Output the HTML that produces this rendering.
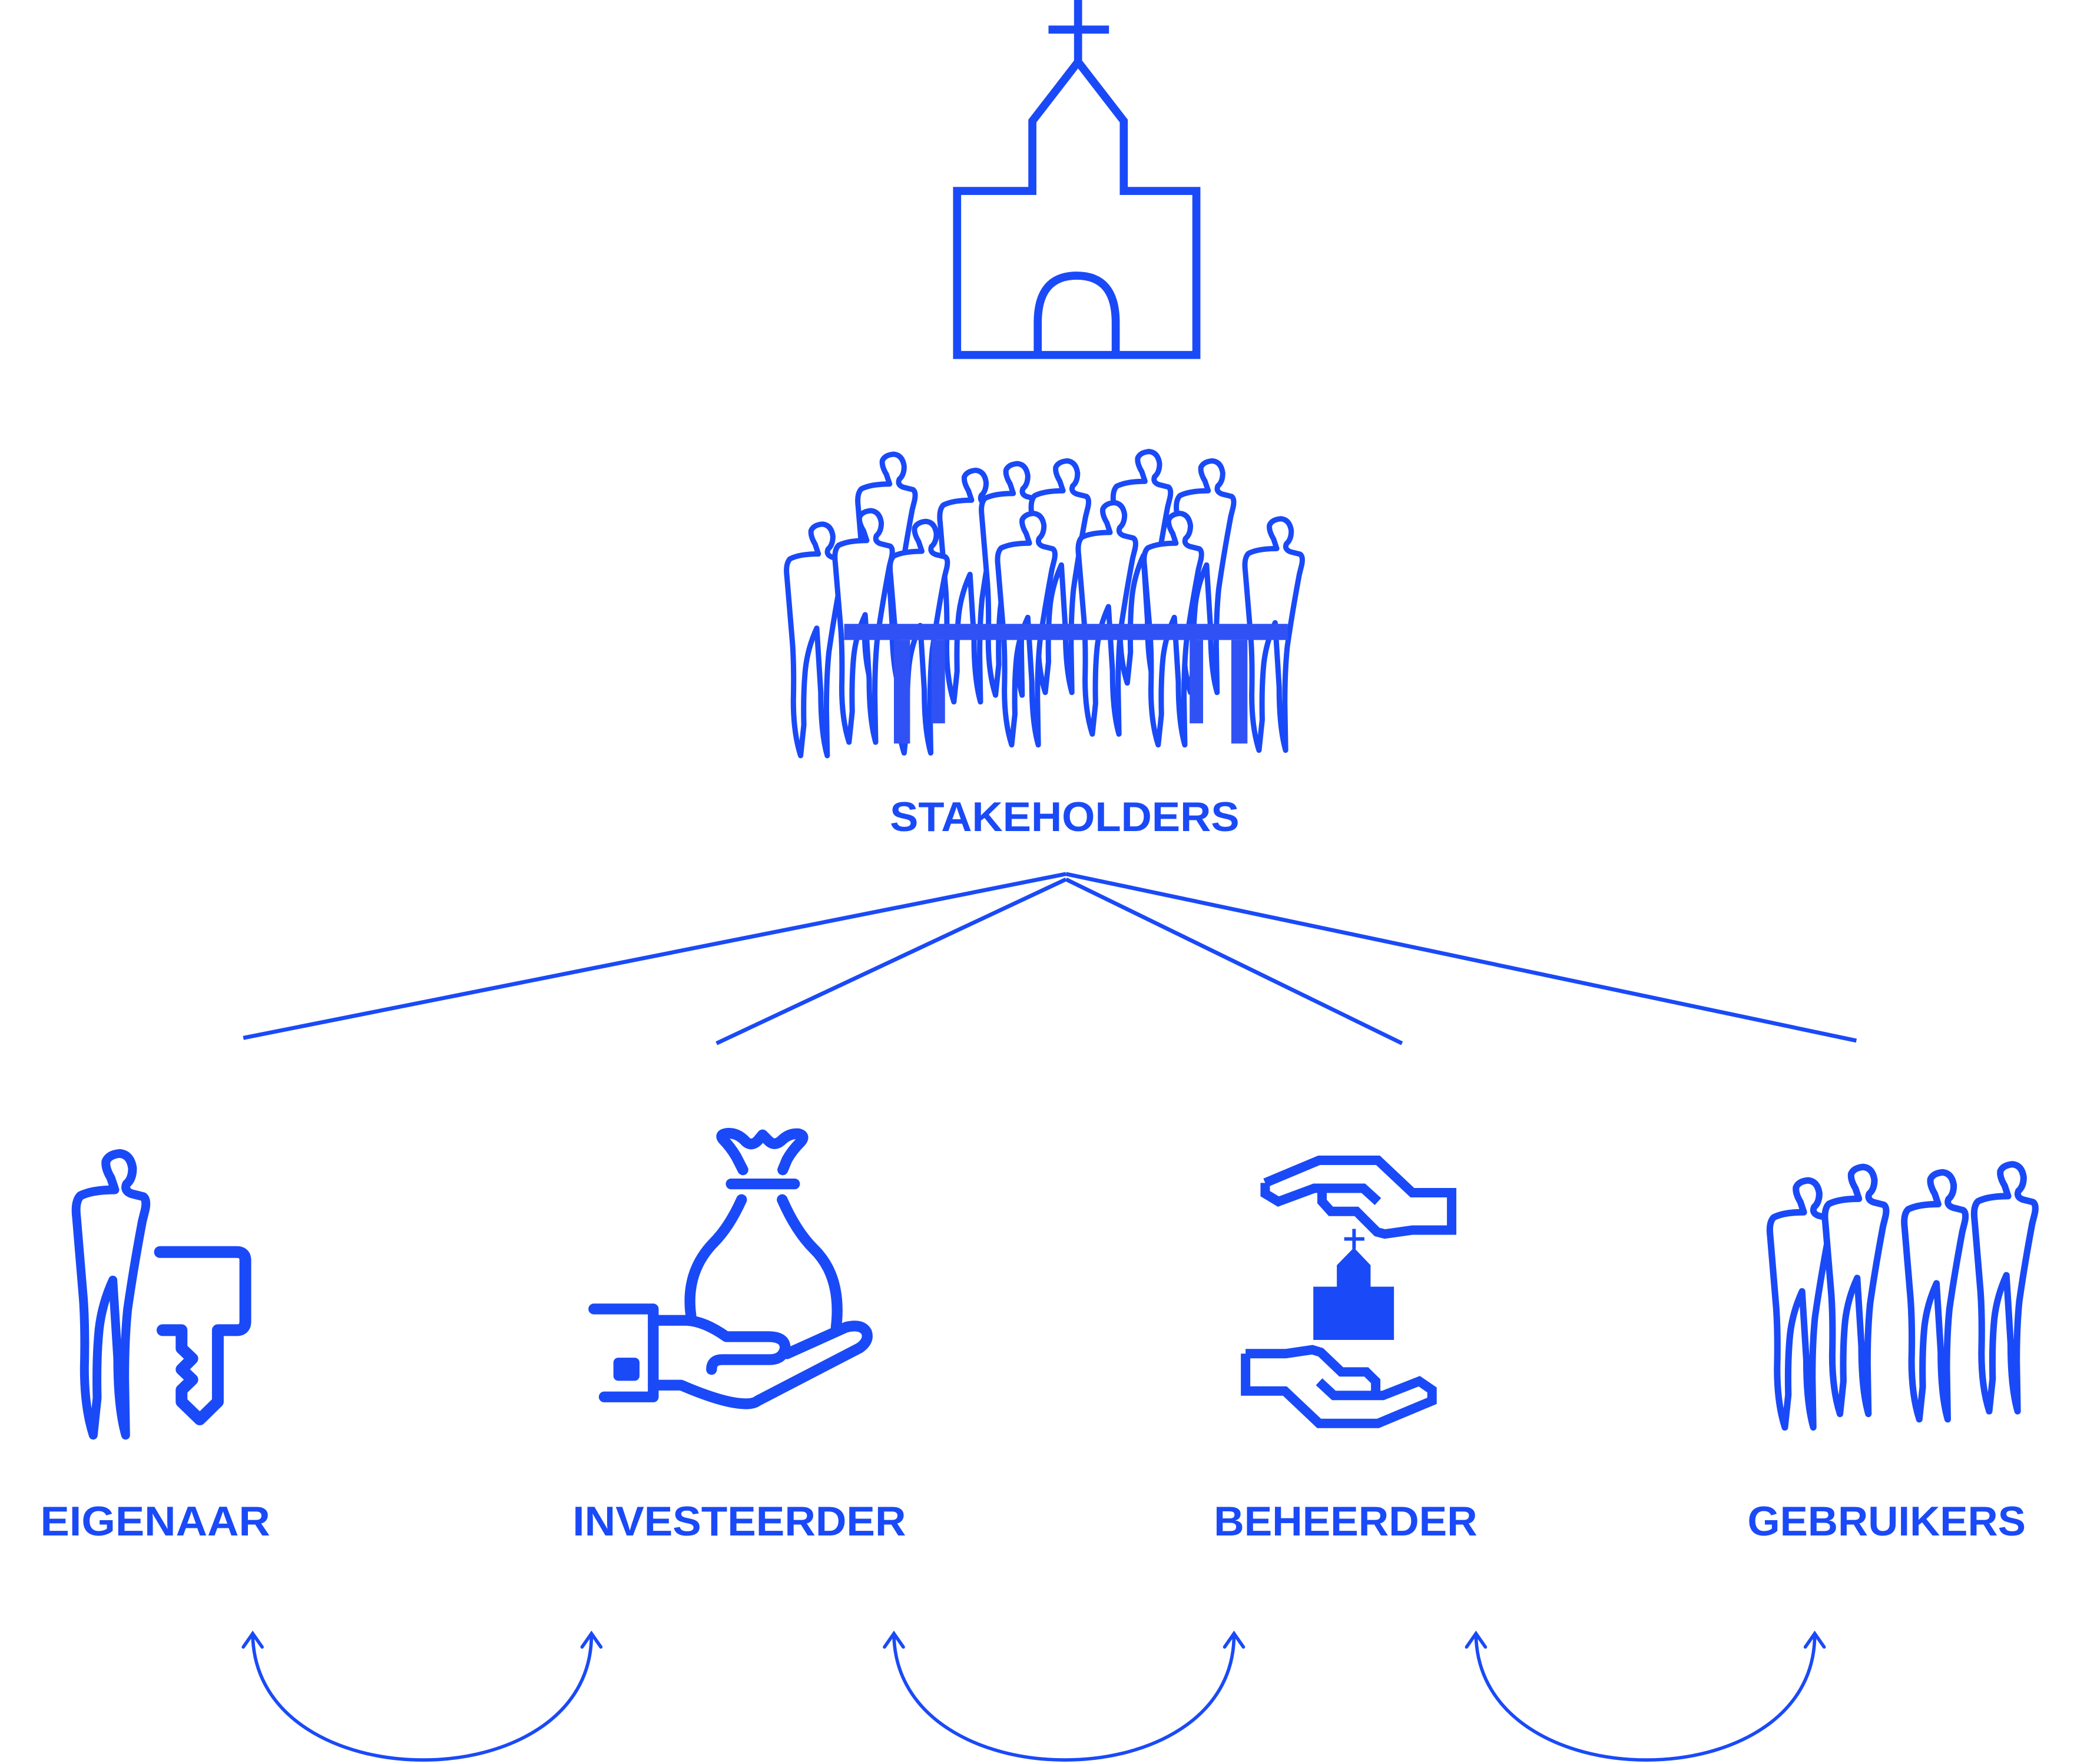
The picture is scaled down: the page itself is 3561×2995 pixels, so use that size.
<!DOCTYPE html>
<html><head><meta charset="utf-8"><style>html,body{margin:0;padding:0;background:#fff}svg{display:block}</style></head>
<body>
<svg width="3561" height="2995" viewBox="0 0 1560 1312" xmlns="http://www.w3.org/2000/svg" font-family="Liberation Sans, sans-serif">
<defs>
<path id="p" d="M285,240 L265,180 Q235,130 240,95 Q255,60 310,55 Q365,60 375,130 Q375,185 345,210 Q330,245 370,260 L430,275 Q450,290 440,340 L425,400 Q380,640 350,850 Q335,1000 335,1200 L340,1490 Q300,1350 300,1100 L275,700 Q220,820 205,950 Q190,1100 195,1300 L175,1490 Q130,1350 130,1150 Q135,950 125,800 L90,380 Q80,300 110,270 Q170,240 285,240 Z"/>
</defs>
<g fill="none" stroke="#1a4af7" stroke-linecap="round" stroke-linejoin="round">
<!-- church -->
<path d="M802,0 V45 M780,22 H825" stroke-width="6" stroke-linecap="butt"/>
<path d="M712,264 L712,142 L768,142 L768,90 L802,46 L836,90 L836,142 L890,142 L890,264 Z" stroke-width="6" stroke-linejoin="miter"/>
<path d="M772,262 L772,240 Q772,205 801,205 Q830,205 830,240 L830,262" stroke-width="6"/>
</g>
<!-- crowd -->
<g fill="#fff" stroke="#1a4af7" stroke-linejoin="round">
<use href="#p" stroke-width="33" transform="translate(627.6,331.2) scale(0.12)"/>
<use href="#p" stroke-width="33" transform="translate(688.6,343.2) scale(0.12)"/>
<use href="#p" stroke-width="33" transform="translate(719.6,338.2) scale(0.12)"/>
<use href="#p" stroke-width="33" transform="translate(756.6,336.2) scale(0.12)"/>
<use href="#p" stroke-width="33" transform="translate(817.6,329.2) scale(0.12)"/>
<use href="#p" stroke-width="33" transform="translate(864.6,336.2) scale(0.12)"/>
<use href="#p" stroke-width="33" transform="translate(574.6,383.2) scale(0.12)"/>
<use href="#p" stroke-width="33" transform="translate(610.6,373.2) scale(0.12)"/>
<use href="#p" stroke-width="33" transform="translate(651.6,381.2) scale(0.12)"/>
<use href="#p" stroke-width="33" transform="translate(731.6,375.2) scale(0.12)"/>
<use href="#p" stroke-width="33" transform="translate(791.6,367.2) scale(0.12)"/>
<use href="#p" stroke-width="33" transform="translate(840.6,375.2) scale(0.12)"/>
<use href="#p" stroke-width="33" transform="translate(915.6,379.2) scale(0.12)"/>
</g>
<g fill="#3052f5">
<rect x="628" y="464" width="330" height="12"/>
<rect x="665" y="476" width="12" height="77"/>
<rect x="693" y="476" width="10" height="62"/>
<rect x="885" y="476" width="10" height="62"/>
<rect x="916" y="476" width="12" height="77"/>
</g>
<g fill="#1a4af7" font-weight="bold" font-size="31">
<text x="662" y="618" textLength="260" lengthAdjust="spacingAndGlyphs">STAKEHOLDERS</text>
<text x="30" y="1142" textLength="171" lengthAdjust="spacingAndGlyphs">EIGENAAR</text>
<text x="426" y="1142" textLength="248" lengthAdjust="spacingAndGlyphs">INVESTEERDER</text>
<text x="903" y="1142" textLength="196" lengthAdjust="spacingAndGlyphs">BEHEERDER</text>
<text x="1300" y="1142" textLength="207" lengthAdjust="spacingAndGlyphs">GEBRUIKERS</text>
</g>
<g fill="none" stroke="#1a4af7" stroke-width="3">
<path d="M793,650 L181,772 M793,654 L533,776 M793,654 L1043,776 M793,650 L1381,774"/>
</g>
<g fill="none" stroke="#1a4af7" stroke-width="2.5" stroke-linecap="round">
<path d="M188,1216 C190,1340 440,1340 440,1216"/>
<path d="M181,1225 L188,1215 L195,1225 M433,1225 L440,1215 L447,1225"/>
<path d="M665,1216 C667,1340 918,1340 918,1216"/>
<path d="M658,1225 L665,1215 L672,1225 M911,1225 L918,1215 L925,1225"/>
<path d="M1098,1216 C1100,1340 1350,1340 1350,1216"/>
<path d="M1091,1225 L1098,1215 L1105,1225 M1343,1225 L1350,1215 L1357,1225"/>
</g>
<!-- eigenaar -->
<g transform="translate(43.8,849.9) scale(0.146)" stroke="#1a4af7" fill="none" stroke-linejoin="round" stroke-linecap="round">
<use href="#p" stroke-width="45"/>
<path d="M515,557 H905 Q950,557 950,600 V910 Q950,955 905,955 H810 V1320 L718,1410 L625,1320 V1260 L680,1207 L625,1155 L680,1100 L625,1048 V955 H528" stroke-width="60"/>
</g>
<!-- investeerder -->
<g transform="translate(433.7,832.4) scale(0.146)" stroke="#1a4af7" fill="none" stroke-linejoin="round" stroke-linecap="round" stroke-width="55">
<path d="M815,258 L780,190 Q750,140 715,105 Q690,75 740,72 Q790,70 830,115 Q860,140 890,110 L915,80 L945,110 Q975,140 1010,110 Q1050,70 1100,75 Q1135,85 1110,115 Q1065,160 1040,205 L1018,258"/>
<path d="M755,330 H1078"/>
<path d="M808,410 Q745,550 665,630 Q520,780 550,1000"/>
<path d="M1015,410 Q1085,570 1175,660 Q1320,800 1290,1060"/>
<path d="M55,967 H358 V1415 H108"/>
<path d="M358,1025 H530 Q620,1030 730,1108 H950 Q1030,1110 1030,1165 Q1020,1225 950,1225 H710 Q655,1225 655,1275"/>
<path d="M358,1355 H500 Q720,1450 830,1450 Q870,1450 890,1435 L1410,1165 Q1460,1130 1445,1085 Q1420,1040 1340,1060 L1040,1195"/>
<rect x="155" y="1215" width="133" height="118" rx="25" fill="#1a4af7" stroke="none"/>
</g>
<!-- beheerder -->
<g stroke="#1a4af7" fill="none" stroke-width="7" stroke-linejoin="miter">
<path d="M941.2,879.8 L981.3,863 H1025.1 L1050.7,887.1 H1079.9 V914.9 H1050.7 L1030.2,917.8 L1024.4,916.3 L1009.1,901 H990.1 L983.5,893.7 V883.8"/>
<path d="M941.2,879.8 V887.8 L951,893.7 L977.7,883.8 H1014.2 L1025.1,893.7"/>
<path d="M926.6,1006.8 V1034.6 H955.8 L981.3,1058.7 H1025.1 L1065.3,1041.9 V1033.8 L1055.8,1027.3 L1028.8,1037.9 H992.3 L981.3,1027.7"/>
<path d="M926.6,1006.8 H956.5 L976.2,1003.9 L982.5,1005.8 L997.8,1020.4 H1016.4 L1023.4,1027.3 V1037.9"/>
</g>
<g fill="#1a4af7">
<rect x="977" y="957" width="60" height="39.6"/>
<path d="M994.5,957.5 V941 L1007.2,928 L1019.6,941 V957.5 Z"/>
<rect x="1006" y="914" width="2.6" height="15"/>
<rect x="1000" y="920.2" width="15" height="2.6"/>
</g>
<!-- gebruikers -->
<g fill="#fff" stroke="#1a4af7" stroke-linejoin="round">
<use href="#p" stroke-width="38" transform="translate(1305.4,870.9) scale(0.128)"/>
<use href="#p" stroke-width="38" transform="translate(1346.4,860.9) scale(0.128)"/>
<use href="#p" stroke-width="38" transform="translate(1405.4,864.9) scale(0.128)"/>
<use href="#p" stroke-width="38" transform="translate(1457.4,858.9) scale(0.128)"/>
</g>
</svg>
</body></html>
